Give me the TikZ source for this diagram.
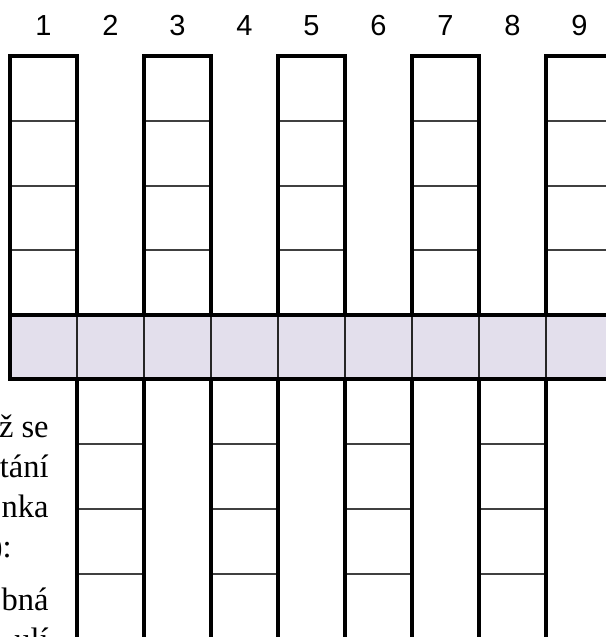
\documentclass[tikz,border=0pt]{standalone}
\usepackage{fontspec}
\setmainfont{Liberation Serif}
\newfontfamily\numfont{Liberation Sans}
\usepackage{tikz}
\definecolor{barfill}{RGB}{227,223,236}

\begin{document}
\begin{tikzpicture}[x={(0.02cm,0cm)}, y={(0cm,-0.02cm)},
  frame/.style={line width=1.8pt},
  cellline/.style={line width=0.8pt, black!75},
  txt/.style={font=\fontsize{18.5}{22}\selectfont, inner sep=0pt, anchor=base east}]
\useasboundingbox (0,0) rectangle (606,637);
\clip (0,0) rectangle (606,637);
\fill[barfill] (10,315) rectangle (614,379);
\foreach \i in {1,...,8} \draw[line width=0.7pt, black!85] ({10+67*\i},315) -- ({10+67*\i},379);
\foreach \i in {0,2,4,6,8} {
  \foreach \y in {121,186,250} \draw[cellline] ({10+67*\i},\y) -- ({77+67*\i},\y);
  \draw[frame] ({10+67*\i},315) -- ({10+67*\i},56) -- ({77+67*\i},56) -- ({77+67*\i},315);
}
\foreach \i in {1,3,5,7} {
  \foreach \y in {444,509,574,639} \draw[cellline] ({10+67*\i},\y) -- ({77+67*\i},\y);
  \draw[frame] ({10+67*\i},379) -- ({10+67*\i},660);
  \draw[frame] ({77+67*\i},379) -- ({77+67*\i},660);
}
\draw[frame] (10,315) rectangle (614,379);
\foreach \i in {1,...,9}
  \node[font=\numfont\fontsize{16.5}{20}\selectfont, inner sep=0pt, anchor=base] (n\i) at ({67*\i-23.5},35) {\i};
\node[txt] (l1) at (49,437) {ž se};
\node[txt] (l2) at (49,477) {tání};
\node[txt] (l3) at (49,517) {nka};
\node[txt] (l4) at (12,557) {):};
\node[txt] (l5) at (49,610) {bná};
\node[txt] (l6) at (49,650) {ulí};
\end{tikzpicture}
\end{document}
